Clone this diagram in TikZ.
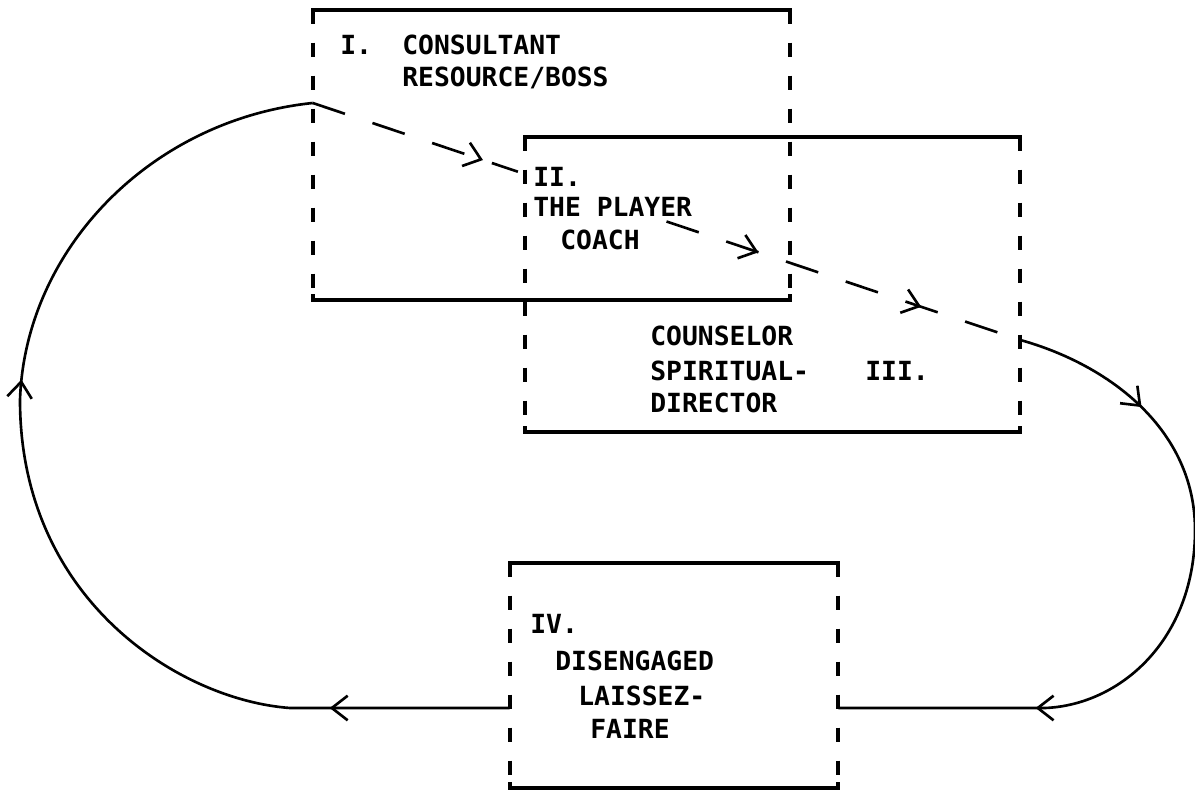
\documentclass[tikz,border=0pt]{standalone}
\usepackage{fontspec}
\setmonofont{DejaVu Sans Mono}
\usetikzlibrary{positioning,calc,arrows.meta,decorations.markings}

\begin{document}
\begin{tikzpicture}[
    x=0.02cm, y=-0.02cm,
    zone/.style={rectangle, inner sep=0pt},
    label/.style={anchor=base west, inner sep=0pt, font=\ttfamily\bfseries\fontsize{15}{18}\selectfont},
    edge/.style={line width=2.2pt},
    side/.style={line width=2.2pt, dash pattern=on 0.28cm off 0.38cm},
    flow/.style={line width=1.5pt},
    trail/.style={line width=1.5pt, dash pattern=on 0.68cm off 0.58cm}
]
    \useasboundingbox (0,0) rectangle (1195,793);

    % Boxes
    \node[zone, minimum width=9.54cm, minimum height=5.8cm] (b1) at (551.5,155) {};
    \node[zone, minimum width=9.9cm, minimum height=5.9cm] (b2) at (772.5,284.5) {};
    \node[zone, minimum width=6.56cm, minimum height=4.5cm] (b4) at (674,675.5) {};

    \foreach \b in {b1,b2,b4} {
        \draw[edge] ([yshift=-0.12cm]\b.north west) -- (\b.north west) -- (\b.north east) -- ([yshift=-0.12cm]\b.north east);
        \draw[edge] ([yshift=0.12cm]\b.south west) -- (\b.south west) -- (\b.south east) -- ([yshift=0.12cm]\b.south east);
        \draw[side] (\b.north west) -- (\b.south west);
        \draw[side] (\b.north east) -- (\b.south east);
    }

    % Labels
    \node[label] (t1num) at (340,55) {I.};
    \node[label] (t1a) at (402,55) {CONSULTANT};
    \node[label] (t1b) at (402,87) {RESOURCE/BOSS};
    \node[label] (t2num) at (533,187) {II.};
    \node[label] (t2a) at (533,217) {THE PLAYER};
    \node[label] (t2b) at (560,250) {COACH};
    \node[label] (t3a) at (650,346) {COUNSELOR};
    \node[label] (t3b) at (650,380) {SPIRITUAL-};
    \node[label] (t3num) at (865,380) {III.};
    \node[label] (t3c) at (650,412) {DIRECTOR};
    \node[label] (t4num) at (530,633) {IV.};
    \node[label] (t4a) at (555,670) {DISENGAGED};
    \node[label] (t4b) at (578,705) {LAISSEZ-};
    \node[label] (t4c) at (590,738) {FAIRE};

    % Connectors
    \coordinate (out1) at (b1.west |- 0,103);
    \coordinate (in3) at (b2.east |- 0,340);
    \coordinate (in4) at (b4.east |- 0,708);
    \coordinate (out4) at (b4.west |- 0,708);
    \coordinate (gapA) at ($(out1)!0.29!(in3)$);
    \coordinate (gapB) at ($(out1)!0.5!(in3)$);

    \draw[trail, postaction={decorate}, decoration={markings,
        mark=at position 0.83 with {\arrow{Straight Barb[length=9pt,width=14pt]}}}]
        (out1) -- (gapA);
    \draw[trail, postaction={decorate}, decoration={markings,
        mark=at position 0.26 with {\arrow{Straight Barb[length=9pt,width=14pt]}},
        mark=at position 0.72 with {\arrow{Straight Barb[length=9pt,width=14pt]}}}]
        (gapB) -- (in3);
    \draw[flow, postaction={decorate}, decoration={markings,
        mark=at position 2.8cm with {\arrow{Straight Barb[length=9pt,width=14pt]}},
        mark=at position 10.9cm with {\arrow{Straight Barb[length=9pt,width=14pt]}}}]
        (in3) .. controls (1110,365) and (1195,430) .. (1195,530)
        .. controls (1195,640) and (1120,705) .. (1045,708) -- (in4);
    \draw[flow, postaction={decorate}, decoration={markings,
        mark=at position 3.6cm with {\arrow{Straight Barb[length=9pt,width=14pt]}},
        mark=at position 13.8cm with {\arrow{Straight Barb[length=9pt,width=14pt]}}}]
        (out4) -- (290,708) .. controls (180,700) and (20,600) .. (20,400)
        .. controls (25,250) and (150,120) .. (out1);
\end{tikzpicture}
\end{document}
